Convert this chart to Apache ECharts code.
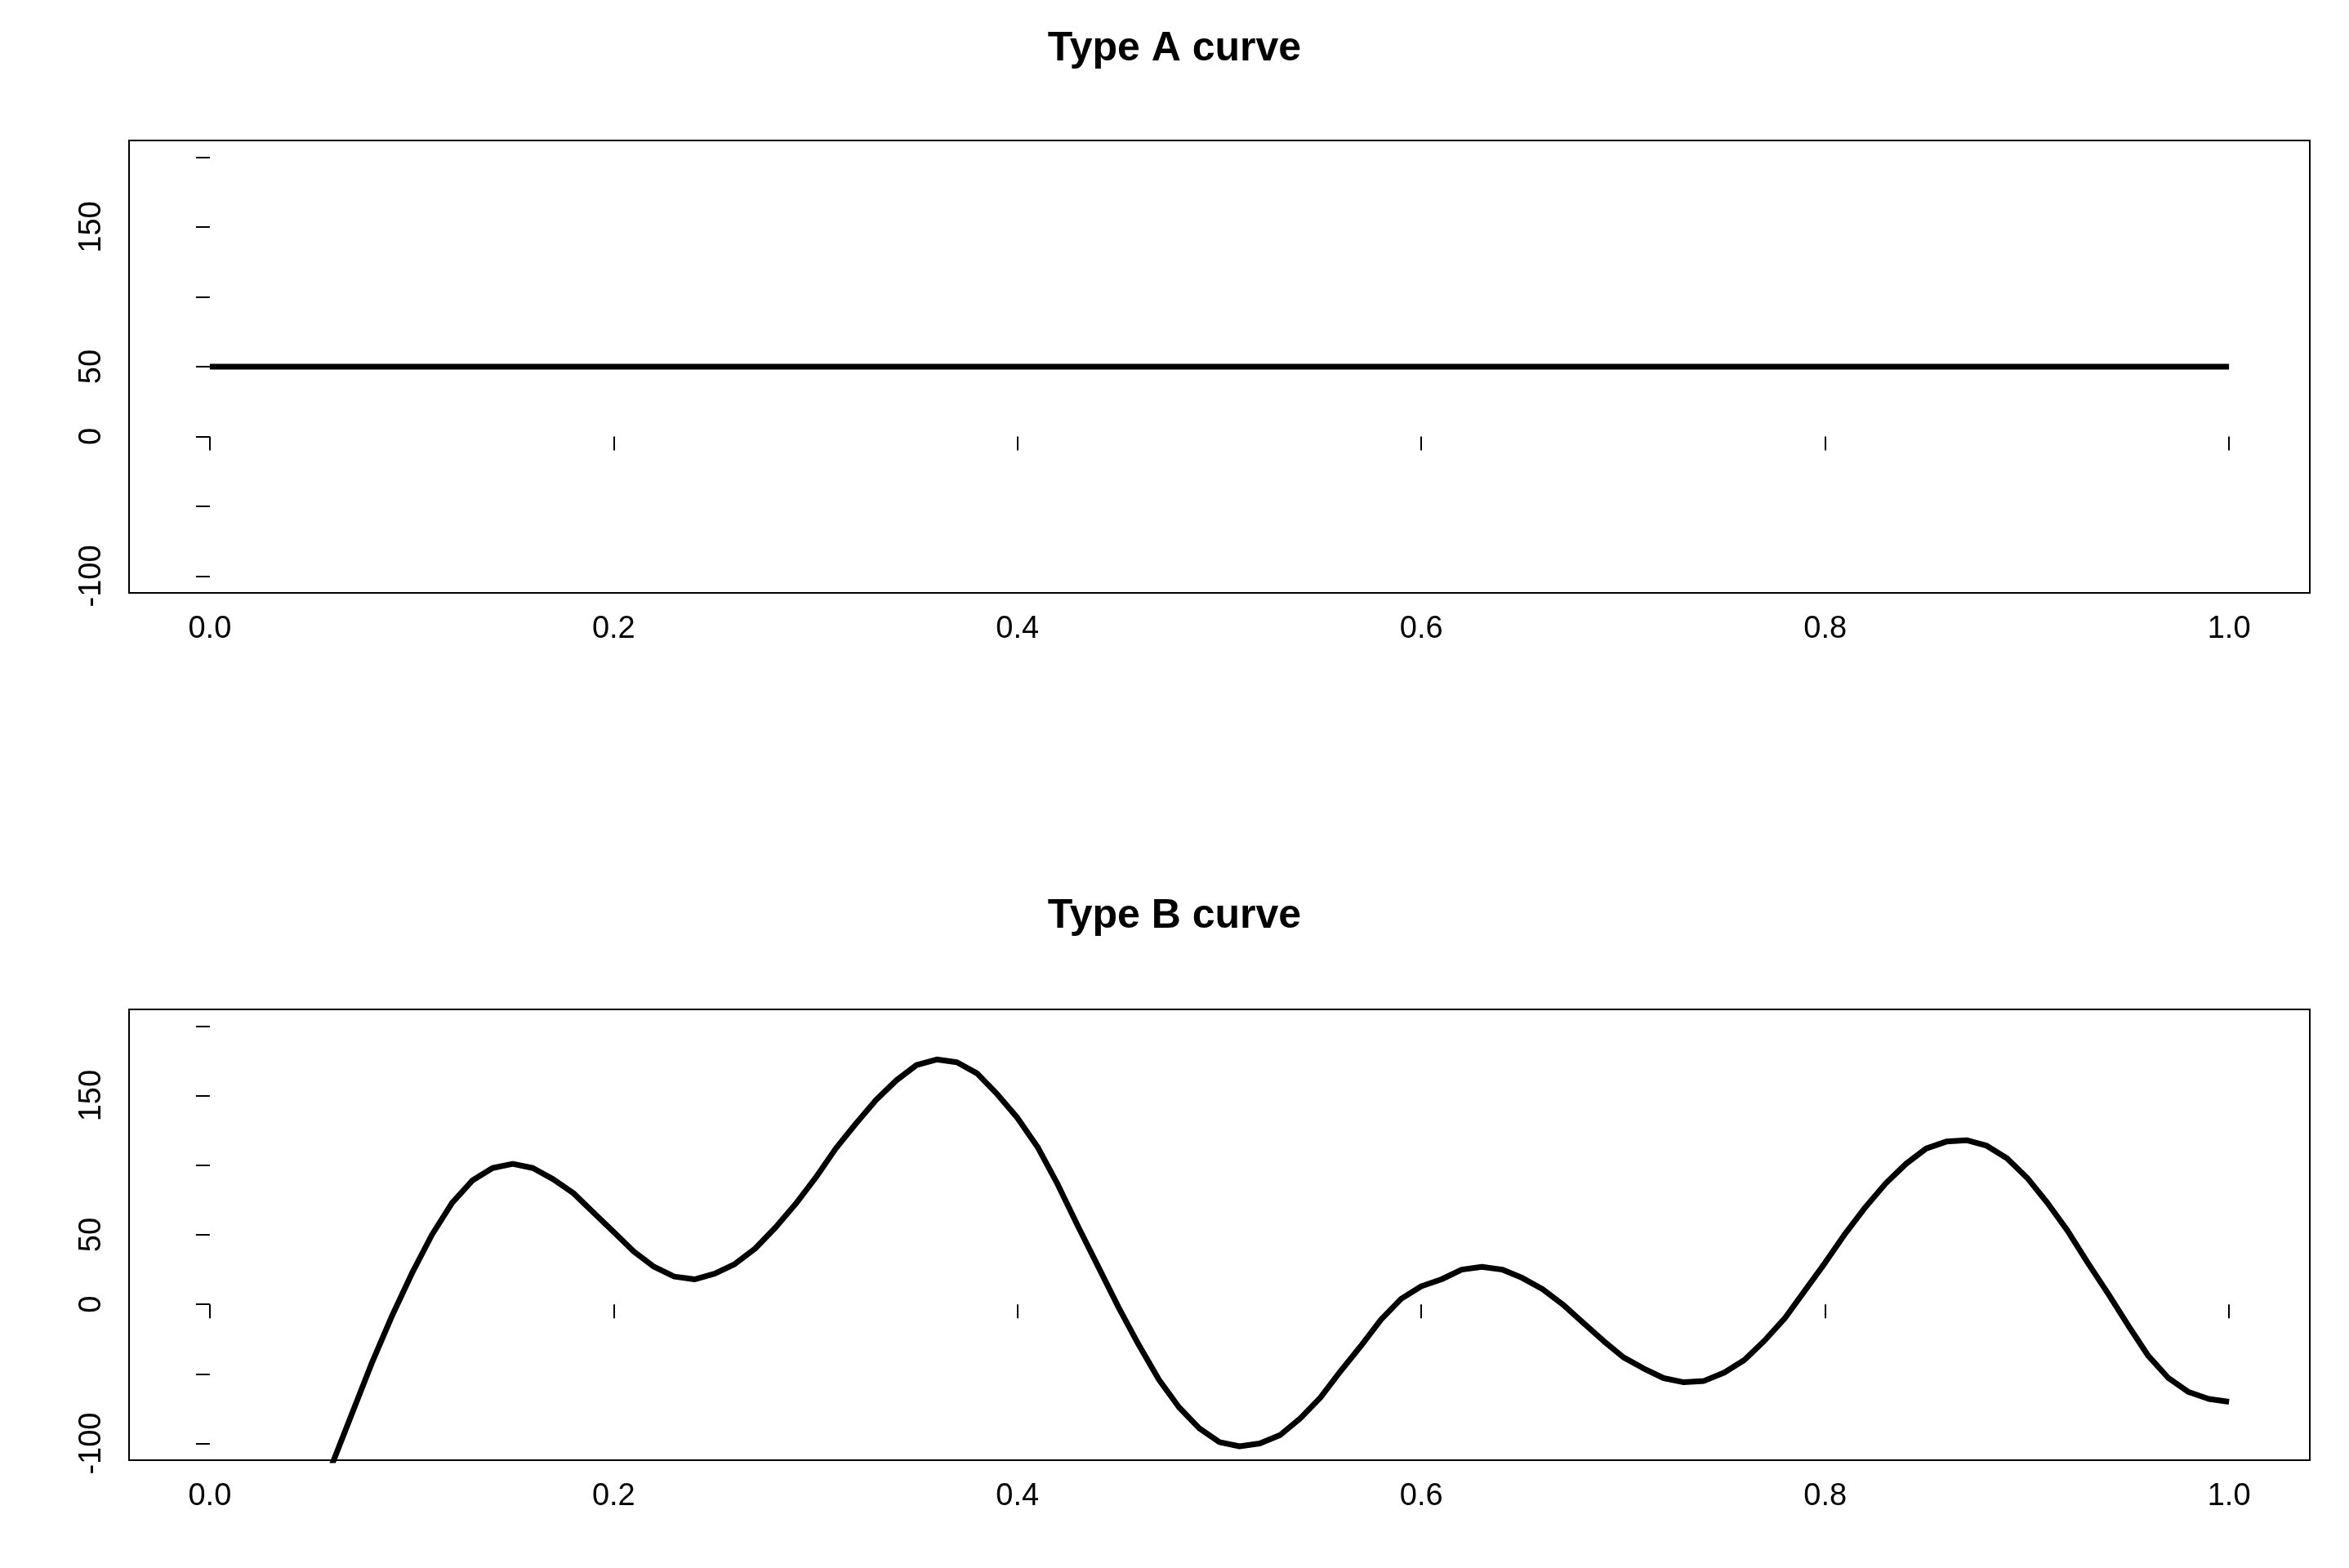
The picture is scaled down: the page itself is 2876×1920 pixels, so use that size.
<!DOCTYPE html>
<html>
<head>
<meta charset="UTF-8">
<script src="https://cdn.jsdelivr.net/npm/echarts@6/dist/echarts.min.js"></script>
<style>html,body{margin:0;height:100%;background:#fff;}#c{width:2876px;height:1920px;}</style>
</head>
<body>
<div id="c"></div>
<script>
var xTicks = [0, 0.2, 0.4, 0.6, 0.8, 1.0];
var yTicks = [-100, -50, 0, 50, 100, 150, 200];
var yLabels = [-100, 0, 50, 150];
var typeA = [[0, 50], [1, 50]];
var typeB = [-330,-290,-250,-215,-185,-155,-117,-80,-43,-9,
  22,50,73,89,98,101,98,90,80,66,
  52,38,27,20,18,22,29,40,55,72,
  91,112,130,147,161,172,176,174,166,151,
  134,113,86,56,27,-2,-29,-54,-74,-89,
  -99,-102,-100,-94,-82,-67,-48,-30,-11,4,
  13,18,25,27,25,19,11,0,-13,-26,
  -38,-46,-53,-56,-55,-49,-40,-26,-10,10,
  30,51,70,87,101,112,117,118,114,105,
  91,73,53,30,8,-15,-37,-53,-63,-68,-70];
var typeBData = typeB.map(function (v, i) { return [i / 100, v]; });

var font = 'Liberation Sans, Arial, sans-serif';
function xAx(g) {
  return {
    type: 'value', gridIndex: g, min: -0.04, max: 1.04,
    axisLine: {show: false}, splitLine: {show: false},
    axisTick: {show: true, customValues: xTicks, length: 17, lineStyle: {color: '#000', width: 2}},
    axisLabel: {customValues: xTicks, color: '#000', fontSize: 38, fontFamily: font, margin: 26,
      formatter: function (v) { return v.toFixed(1); }}
  };
}
function yAx(g) {
  return {
    type: 'value', gridIndex: g, min: -112, max: 212,
    axisLine: {show: false}, splitLine: {show: false},
    axisTick: {show: true, customValues: yTicks, length: 17, lineStyle: {color: '#000', width: 2}},
    axisLabel: {customValues: yLabels, rotate: 90, color: '#000', fontSize: 38, fontFamily: font, margin: 26}
  };
}
var chart = echarts.init(document.getElementById('c'));
chart.setOption({
  backgroundColor: '#fff',
  animation: false,
  title: [
    {text: 'Type A curve', left: 'center', top: 30, textStyle: {fontSize: 50, fontWeight: 'bold', fontFamily: font, color: '#000'}},
    {text: 'Type B curve', left: 'center', top: 1092, textStyle: {fontSize: 50, fontWeight: 'bold', fontFamily: font, color: '#000'}}
  ],
  grid: [
    {left: 158, right: 48, top: 172, height: 554, show: true, borderColor: '#000', borderWidth: 2, backgroundColor: 'transparent'},
    {left: 158, right: 48, top: 1236, height: 552, show: true, borderColor: '#000', borderWidth: 2, backgroundColor: 'transparent'}
  ],
  xAxis: [xAx(0), xAx(1)],
  yAxis: [yAx(0), yAx(1)],
  series: [
    {type: 'line', xAxisIndex: 0, yAxisIndex: 0, data: typeA, showSymbol: false, lineStyle: {color: '#000', width: 7}},
    {type: 'line', xAxisIndex: 1, yAxisIndex: 1, data: typeBData, showSymbol: false, clip: true, lineStyle: {color: '#000', width: 7}}
  ]
});
</script>
</body>
</html>
